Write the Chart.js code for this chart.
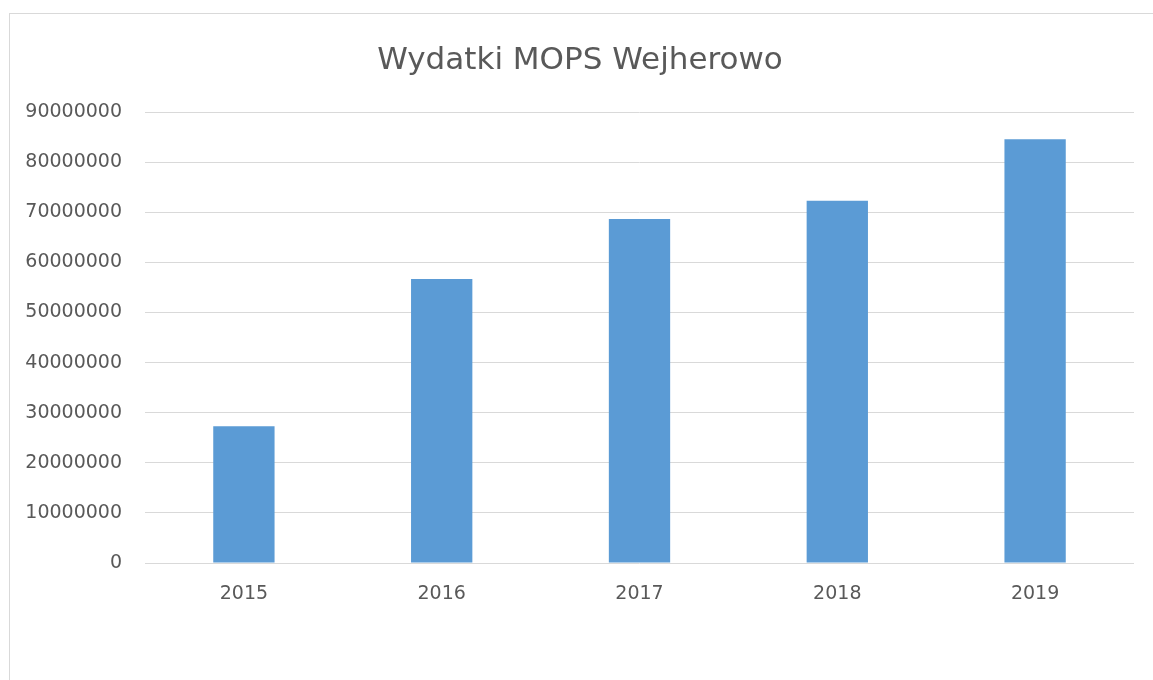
<!DOCTYPE html>
<html>
<head>
<meta charset="utf-8">
<script src="https://cdn.jsdelivr.net/npm/chart.js@4"></script>
<style>
    html, body { margin: 0; padding: 0; background: #fff; }
    .frame {
        position: absolute; left: 9px; top: 13px;
        width: 1160px; height: 700px;
        border: 1px solid #d9d9d9;
    }
    .wrap { position: absolute; left: 0; top: 0; width: 1153px; height: 680px; }
</style>
</head>
<body>
<div class="frame"></div>
<div class="wrap"><canvas id="mopsChart"></canvas></div>
<script>
// Data
const years = ['2015', '2016', '2017', '2018', '2019'];
const expenses = [27300000, 56700000, 68700000, 72300000, 84600000];
const yTicks = [0, 10000000, 20000000, 30000000, 40000000, 50000000, 60000000, 70000000, 80000000, 90000000];

const textColor = '#595959';
const fontFamily = '"DejaVu Sans", "Open Sans", sans-serif';

const ctx = document.getElementById('mopsChart');
new Chart(ctx, {
    type: 'bar',
    data: {
        labels: years,
        datasets: [{
            label: 'Wydatki',
            data: expenses,
            backgroundColor: '#5b9bd5',
            borderWidth: 0,
            categoryPercentage: 1,
            barPercentage: 0.31
        }]
    },
    options: {
        responsive: true,
        maintainAspectRatio: false,
        animation: false,
        layout: { padding: { left: 26, right: 19, top: 0, bottom: 60 } },
        plugins: {
            legend: { display: false },
            tooltip: { enabled: false },
            title: {
                display: true,
                text: 'Wydatki MOPS Wejherowo',
                color: textColor,
                font: { family: fontFamily, size: 31, weight: 'normal' },
                padding: { top: 42, bottom: 33 }
            }
        },
        scales: {
            x: {
                grid: { display: false },
                border: { display: false },
                ticks: { color: textColor, font: { family: fontFamily, size: 19 }, padding: 12 },
                afterFit: (scale) => { scale.height = 57; }
            },
            y: {
                min: 0,
                max: 90000000,
                afterBuildTicks: (scale) => { scale.ticks = yTicks.map(v => ({ value: v })); },
                grid: { color: '#d9d9d9', lineWidth: 1, drawTicks: false },
                border: { display: false },
                ticks: {
                    color: textColor,
                    font: { family: fontFamily, size: 19 },
                    padding: 23,
                    callback: (v) => String(v)
                },
                afterFit: (scale) => { scale.width = 119; }
            }
        }
    }
});
</script>
</body>
</html>
